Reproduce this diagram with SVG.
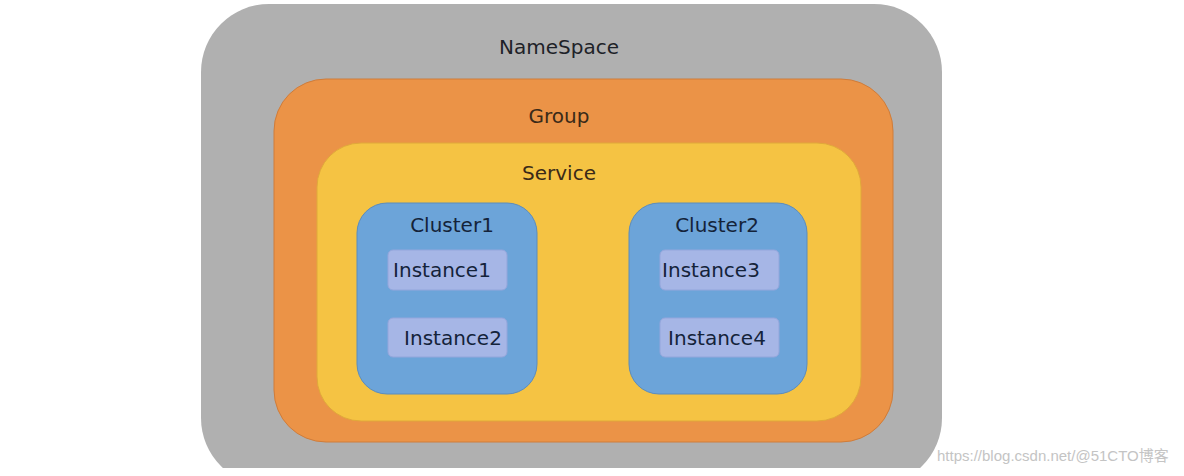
<svg xmlns="http://www.w3.org/2000/svg" width="1184" height="476" viewBox="0 0 1184 476">
  <defs>
    <clipPath id="cut"><rect x="0" y="0" width="1184" height="468"/></clipPath>
    <style>
      text { font-family: "DejaVu Sans", "Noto Sans", sans-serif; font-size: 20px; text-anchor: middle; }
      .ns { fill: #b0b0b0; }
      .grp { fill: #eb9347; stroke: #cf7c3a; stroke-width: 1; }
      .svc { fill: #f5c343; stroke: #e0a83a; stroke-width: 1; }
      .cl { fill: #6ca4d9; stroke: #5b8cbd; stroke-width: 1; }
      .inst { fill: #a6b6e6; stroke: #93a6dc; stroke-width: 1; }
      .t1 { fill: #1e2228; }
      .t2 { fill: #3a2a18; }
      .t3 { fill: #14233a; }
      .wm { font-family: "Liberation Sans", "Noto Sans CJK SC", sans-serif; font-size: 15px; fill: #c4c4c4; text-anchor: start; }
    </style>
  </defs>
  <rect width="1184" height="476" fill="#ffffff"/>
  <g id="namespace" clip-path="url(#cut)">
    <rect class="ns" x="201" y="4" width="741" height="482" rx="68" ry="68"/>
    <text class="t1" x="559" y="54">NameSpace</text>
  </g>
  <g id="group">
    <rect class="grp" x="274" y="79" width="619" height="363" rx="52" ry="52"/>
    <text class="t2" x="559" y="123">Group</text>
  </g>
  <g id="service">
    <rect class="svc" x="317" y="143" width="544" height="278" rx="44" ry="44"/>
    <text class="t2" x="559" y="180">Service</text>
  </g>
  <g id="cluster1">
    <rect class="cl" x="357" y="203" width="180" height="191" rx="30" ry="30"/>
    <text class="t3" x="452" y="232">Cluster1</text>
  </g>
  <g id="cluster2">
    <rect class="cl" x="629" y="203" width="178" height="191" rx="30" ry="30"/>
    <text class="t3" x="717" y="232">Cluster2</text>
  </g>
  <g id="instance1">
    <rect class="inst" x="388" y="250" width="119" height="40" rx="5" ry="5"/>
    <text class="t3" x="442" y="277">Instance1</text>
  </g>
  <g id="instance2">
    <rect class="inst" x="388" y="318" width="119" height="39" rx="5" ry="5"/>
    <text class="t3" x="453" y="345">Instance2</text>
  </g>
  <g id="instance3">
    <rect class="inst" x="660" y="250" width="119" height="40" rx="5" ry="5"/>
    <text class="t3" x="711" y="277">Instance3</text>
  </g>
  <g id="instance4">
    <rect class="inst" x="660" y="318" width="119" height="39" rx="5" ry="5"/>
    <text class="t3" x="717" y="345">Instance4</text>
  </g>
  <g id="connectors"></g>
  <text class="wm" x="937" y="461">https://blog.csdn.net/@51CTO博客</text>
</svg>
